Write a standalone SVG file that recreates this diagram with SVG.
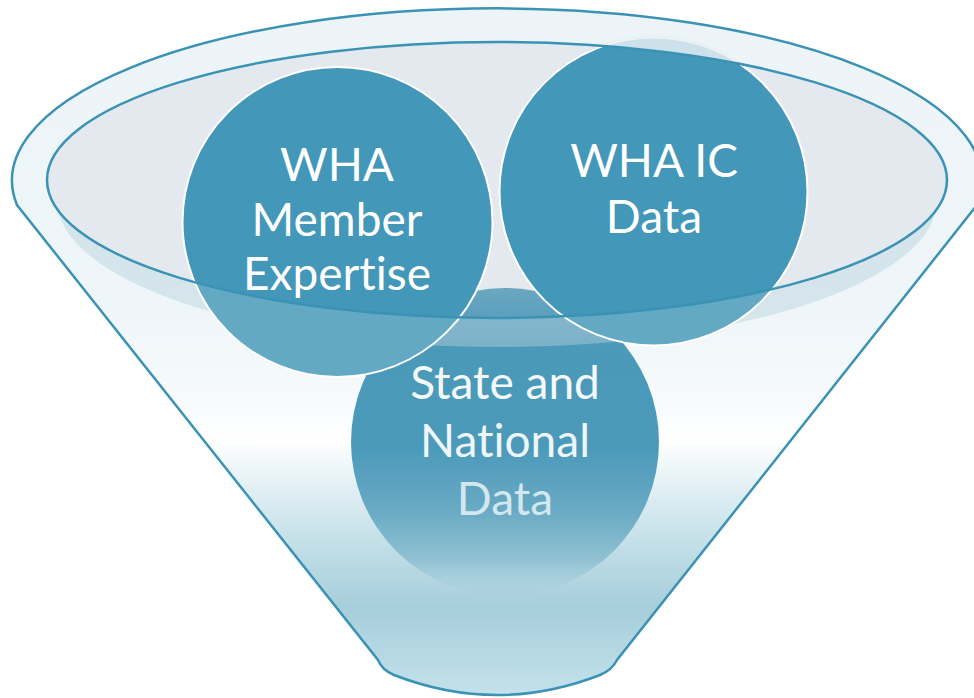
<svg xmlns="http://www.w3.org/2000/svg" width="974" height="698" viewBox="0 0 974 698">
  <defs>
    <style>
      .edge { fill: none; stroke: #3a93b4; stroke-width: 2.5; }
      .disc { fill: #4397b8; stroke: #ffffff; stroke-width: 2; }
      .label { font-family: Lato, "Open Sans", "Liberation Sans", sans-serif; font-size: 46px; fill: #ffffff; text-anchor: middle; font-variant-ligatures: none; }
    </style>
    <!-- funnel body shading, top to spout -->
    <linearGradient id="bodyFill" gradientUnits="userSpaceOnUse" x1="0" y1="0" x2="0" y2="698">
      <stop offset="0" stop-color="#ecf4f7"/>
      <stop offset="0.45" stop-color="#eff6f9"/>
      <stop offset="0.57" stop-color="#f6fafc"/>
      <stop offset="0.63" stop-color="#ffffff"/>
      <stop offset="0.72" stop-color="#d9ebf1"/>
      <stop offset="0.80" stop-color="#bcdbe5"/>
      <stop offset="0.87" stop-color="#a7cedc"/>
      <stop offset="1" stop-color="#c4e2eb"/>
    </linearGradient>
    <!-- lower disc sinks into the spout -->
    <linearGradient id="lowerFill" gradientUnits="userSpaceOnUse" x1="0" y1="288" x2="0" y2="598">
      <stop offset="0" stop-color="#6ba7c0"/>
      <stop offset="0.1" stop-color="#5a9fbd"/>
      <stop offset="0.2" stop-color="#4a99b9"/>
      <stop offset="0.52" stop-color="#4c9aba"/>
      <stop offset="0.72" stop-color="#6aaac4"/>
      <stop offset="0.88" stop-color="#92c2d3"/>
      <stop offset="1" stop-color="#a9d0dd" stop-opacity="0"/>
    </linearGradient>
    <!-- everything outside the rim opening -->
    <clipPath id="outsideRim">
      <path clip-rule="evenodd" d="M0,0 H974 V698 H0 Z M47,180 A450 138 0 1 0 947,180 A450 138 0 1 0 47,180 Z"/>
    </clipPath>
    <!-- back wall above the rim -->
    <clipPath id="behindRim">
      <path clip-rule="evenodd" d="M0,0 H974 V180 H0 Z M47,180 A450 138 0 1 1 947,180 Z"/>
    </clipPath>
  </defs>

  <!-- funnel body -->
  <path id="funnel" d="M17,205 A485 172 0 1 1 977,205 L617,660 Q612,670 600,675 Q497,715 394,675 Q382,670 378,660 Z" fill="url(#bodyFill)"/>

  <!-- rim opening -->
  <ellipse cx="497" cy="180" rx="450" ry="138" fill="#e3e9ef"/>

  <!-- lower node -->
  <g id="node-state-national">
    <circle cx="505" cy="442" r="154" fill="url(#lowerFill)"/>
  </g>

  <!-- rim shadow band -->
  <path d="M57,200 A440 147 0 0 0 937,200 L947,180 A450 138 0 0 1 47,180 Z" fill="#b5d0dc" opacity="0.45" clip-path="url(#outsideRim)"/>

  <g id="node-member-expertise">
    <circle class="disc" cx="337.5" cy="222" r="155"/>
    <circle cx="337.5" cy="222" r="155" fill="#ffffff" opacity="0.18" clip-path="url(#outsideRim)"/>
  </g>

  <g id="node-ic-data">
    <circle class="disc" cx="653.5" cy="191.5" r="154"/>
    <circle cx="653.5" cy="191.5" r="154" fill="#ffffff" opacity="0.18" clip-path="url(#outsideRim)"/>
    <circle cx="653.5" cy="191.5" r="156" fill="#e6eff3" opacity="0.8" clip-path="url(#behindRim)"/>
  </g>

  <!-- rim and outline strokes -->
  <g id="connectors">
    <ellipse class="edge" cx="497" cy="180" rx="450" ry="138"/>
    <path class="edge" d="M17,205 A485 172 0 1 1 977,205 L617,660 Q612,670 600,675 Q497,715 394,675 Q382,670 378,660 Z"/>
  </g>

  <!-- labels -->
  <g id="labels">
    <text class="label" x="337" y="181">WHA</text>
    <text class="label" x="337" y="236">Member</text>
    <text class="label" x="337" y="290">Expertise</text>
    <text class="label" x="654" y="177">WHA IC</text>
    <text class="label" x="654" y="233">Data</text>
    <text class="label" x="505" y="399" style="fill:#f4f9fb">State and</text>
    <text class="label" x="505" y="457" style="fill:#eef6f9">National</text>
    <text class="label" x="505" y="515" style="fill:#d3e7ee">Data</text>
  </g>
</svg>
